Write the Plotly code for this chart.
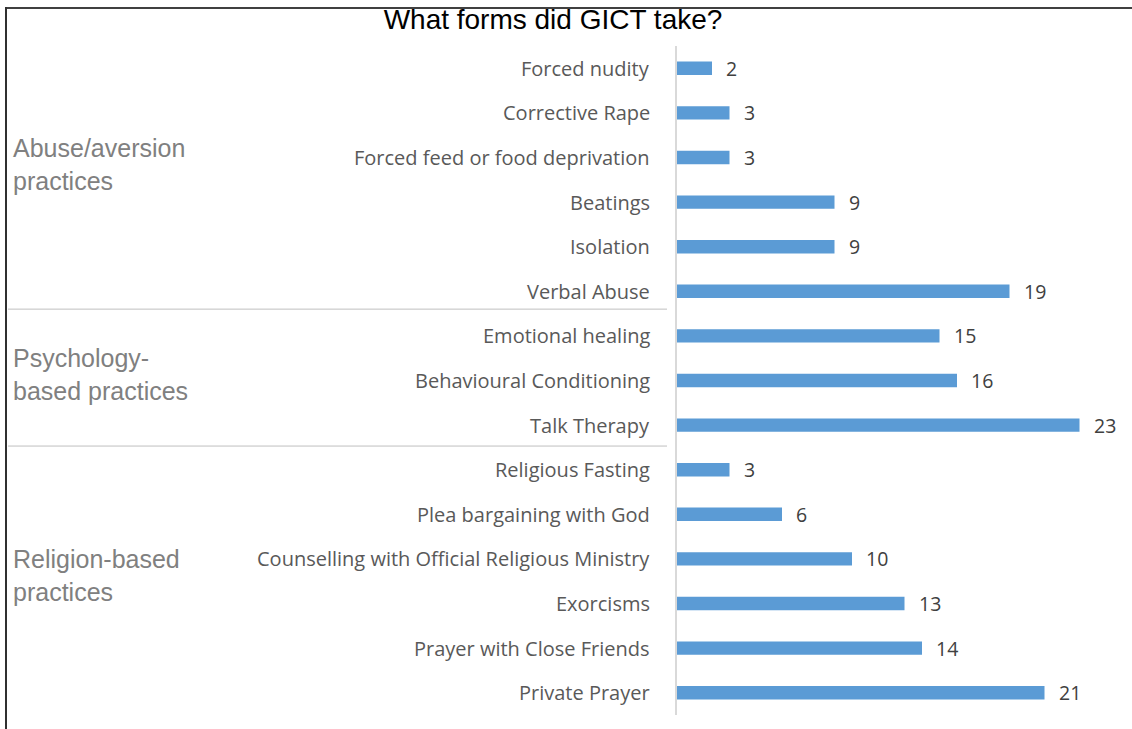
import plotly.graph_objects as go

# Practices listed top to bottom, with the number of respondents for each
practices = [
    "Forced nudity", "Corrective Rape", "Forced feed or food deprivation",
    "Beatings", "Isolation", "Verbal Abuse",
    "Emotional healing", "Behavioural Conditioning", "Talk Therapy",
    "Religious Fasting", "Plea bargaining with God",
    "Counselling with Official Religious Ministry", "Exorcisms",
    "Prayer with Close Friends", "Private Prayer",
]
counts = [2, 3, 3, 9, 9, 19, 15, 16, 23, 3, 6, 10, 13, 14, 21]

groups = ["Abuse/aversion<br>practices", "Psychology-<br>based practices",
          "Religion-based<br>practices"]

W, H = 1132, 729
L, R, T, B = 677, 0, 46, 14
PW, PH = W - L - R, H - T - B

LABEL_FONT = "Open Sans, Carlito, Calibri, sans-serif"


def px_x(p):
    return (p - L) / PW


def px_y(p):
    return (H - B - p) / PH


fig = go.Figure()
fig.add_trace(go.Bar(
    x=counts, y=practices, orientation="h",
    marker=dict(color="#5b9bd5", line=dict(width=0)),
    hoverinfo="x+y",
))

annotations = []
# value labels to the right of each bar
for p, c in zip(practices, counts):
    annotations.append(dict(
        x=c, y=p, xref="x", yref="y", text=str(c), showarrow=False,
        xanchor="left", xshift=12,
        font=dict(family=LABEL_FONT, size=19.5, color="#404040"),
    ))
# category labels
for p in practices:
    annotations.append(dict(
        x=px_x(652), y=p, xref="paper", yref="y", text=p, showarrow=False,
        xanchor="right",
        font=dict(family=LABEL_FONT, size=20, color="#595959"),
    ))
# group labels
for g, cy in zip(groups, [164, 374, 575]):
    annotations.append(dict(
        x=px_x(11), y=px_y(cy), xref="paper", yref="paper", text=g,
        showarrow=False, xanchor="left", yanchor="middle", align="left",
        font=dict(family="Liberation Sans, Arial, sans-serif", size=25, color="#808080"),
    ))

shapes = [
    # group separators
    dict(type="line", xref="paper", yref="y", x0=px_x(8), x1=px_x(667),
         y0=5.4, y1=5.4, line=dict(color="#bfbfbf", width=1)),
    dict(type="line", xref="paper", yref="y", x0=px_x(8), x1=px_x(667),
         y0=8.47, y1=8.47, line=dict(color="#bfbfbf", width=1)),
    # outer frame (top and left)
    dict(type="line", xref="paper", yref="paper", x0=px_x(5), x1=px_x(1132),
         y0=px_y(8), y1=px_y(8), line=dict(color="#404040", width=2)),
    dict(type="line", xref="paper", yref="paper", x0=px_x(6), x1=px_x(6),
         y0=px_y(7), y1=px_y(729), line=dict(color="#303030", width=2)),
]

fig.update_layout(
    width=W, height=H,
    margin=dict(l=L, r=R, t=T, b=B),
    paper_bgcolor="white", plot_bgcolor="white",
    bargap=0.7,
    showlegend=False,
    title=dict(text="What forms did GICT take?", x=553 / W, xanchor="center",
               y=1 - 19 / H, yanchor="middle", xref="container",
               font=dict(family="Liberation Sans, Arial, sans-serif", size=28, color="#000000")),
    xaxis=dict(range=[0, PW / 17.5], showgrid=False, zeroline=False,
               showticklabels=False, showline=False, fixedrange=True),
    yaxis=dict(categoryorder="array", categoryarray=practices, autorange="reversed",
               showticklabels=False, showgrid=False, zeroline=False,
               showline=True, linecolor="#d9d9d9", linewidth=2, ticks=""),
    annotations=annotations,
    shapes=shapes,
)

fig.write_html("out.html")
